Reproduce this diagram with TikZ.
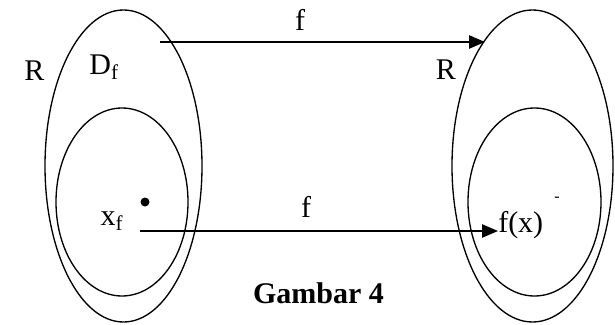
\documentclass[tikz,border=0pt]{standalone}
\usepackage{fontspec}
\setmainfont{Liberation Serif}
\usetikzlibrary{arrows.meta}

\begin{document}
\begin{tikzpicture}[x=0.75pt,y=0.75pt,yscale=-1,xscale=1,
	lbl/.style={anchor=base,inner sep=0.75pt,font=\fontsize{22.5}{27}\selectfont},
	map/.style={line width=1.1pt,-{Triangle[length=12pt,width=10pt]}}]
	\useasboundingbox (0,0) rectangle (615,325);
	
	%Shape: Ellipse (left, R)
	\draw [line width=1pt] (123.5,166) ellipse (78.5 and 156);
	%Shape: Ellipse (left, D_f)
	\draw [line width=1pt] (122,202) ellipse (66 and 94);
	%Shape: Ellipse (right, R)
	\draw [line width=1pt] (532.5,166) ellipse (80.5 and 156);
	%Shape: Ellipse (right, inner)
	\draw [line width=1pt] (534.5,202) ellipse (66.5 and 94);
	%Shape: Dot
	\fill (145,202) circle (4.5);
	
	% Text Node
	\node [lbl] (Rleft) at (34.5,80) {R};
	% Text Node
	\node [lbl] (Df) at (104,74) {D\textsubscript{f}};
	% Text Node
	\node [lbl] (Rright) at (446,79) {R};
	% Text Node
	\node [lbl] (ftop) at (300,30) {f};
	% Text Node
	\node [lbl] (fbot) at (306,217) {f};
	% Text Node
	\node [lbl] (xf) at (112,225) {x\textsubscript{f}};
	% Text Node
	\node [lbl,anchor=base west,inner sep=0pt] (fx) at (498,232) {f(x)};
	% Text Node
	\node [lbl,font=\fontsize{12}{14}\selectfont] (tick) at (557,201) {-};
	% Text Node
	\node [lbl,font=\bfseries\fontsize{22.5}{27}\selectfont] (cap) at (318.5,303) {Gambar 4};
	
	%Straight Lines (arrows)
	\coordinate (topA) at (160,42);
	\coordinate (topB) at (485,42);
	\coordinate (botA) at (140,231);
	\draw [map] (topA) -- (topB);
	\draw [map] (botA) -- (botA -| fx.west);
	
\end{tikzpicture}
\end{document}
